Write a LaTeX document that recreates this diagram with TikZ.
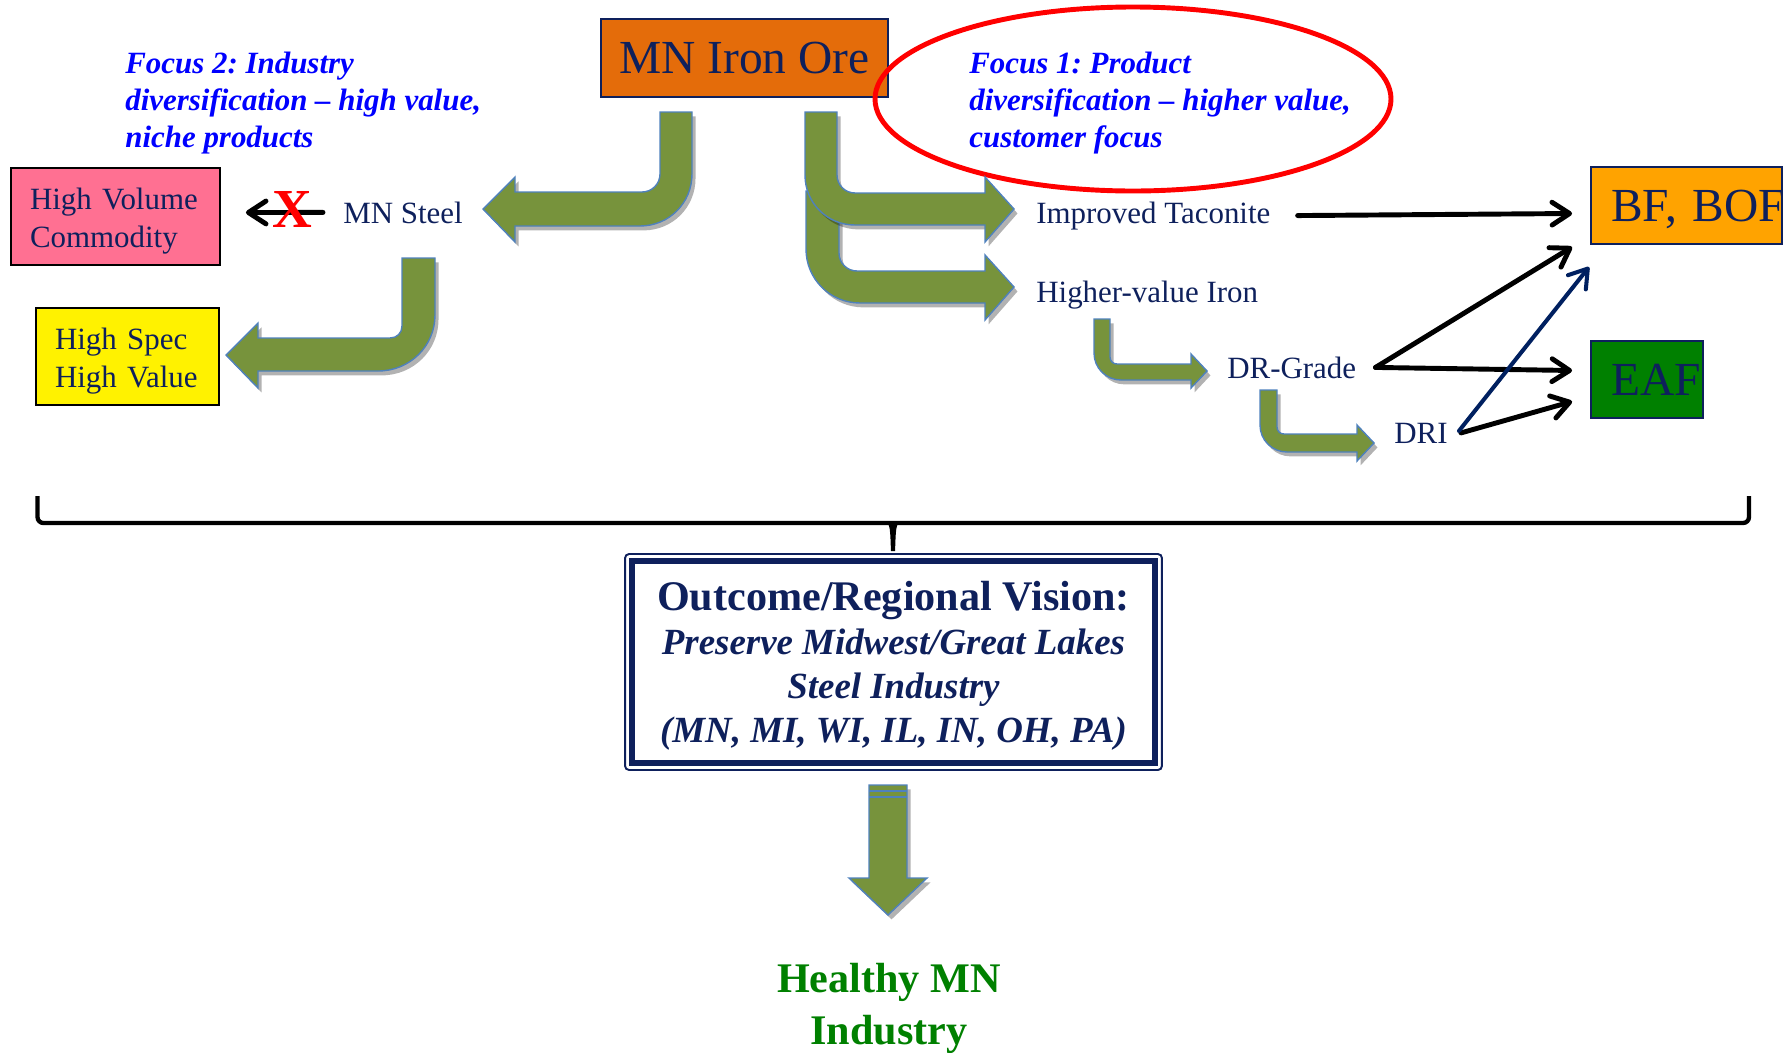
\documentclass[tikz,border=0pt]{standalone}
\usepackage{fontspec}
\setmainfont{Liberation Serif}
\usetikzlibrary{arrows.meta,calc,shadows}
\frenchspacing
\definecolor{orebox}{RGB}{228,108,10}
\definecolor{bofbox}{RGB}{255,163,0}
\definecolor{volbox}{RGB}{255,112,146}
\definecolor{eafbox}{RGB}{0,128,0}
\definecolor{navytext}{RGB}{14,32,92}
\definecolor{focusblue}{RGB}{0,0,255}
\definecolor{arrowgreen}{RGB}{119,147,60}
\definecolor{arrowedge}{RGB}{79,129,189}
\definecolor{ovalred}{RGB}{255,0,0}
\definecolor{healthygreen}{RGB}{0,128,0}
\definecolor{drinavy}{RGB}{0,32,96}

\begin{document}
\begin{tikzpicture}[x=0.02cm,y=-0.02cm,
 bigbox/.style={draw=navytext,line width=1.1pt,text=navytext,font=\fontsize{27}{32}\selectfont,inner xsep=0.4cm,inner ysep=0pt,align=left,text depth=0pt,minimum height=1.54cm},
 smallbox/.style={draw=black,line width=1.1pt,text=navytext,font=\fontsize{17.6}{21.6}\selectfont,inner xsep=0.38cm,inner ysep=0pt,align=left,minimum height=1.94cm},
 txt/.style={text=navytext,font=\fontsize{17.6}{21}\selectfont,inner sep=0pt,anchor=base west},
 focus/.style={text=focusblue,font=\fontsize{17.6}{21.06}\selectfont\bfseries\itshape,inner sep=0pt,align=left,anchor=north west},
 flow/.style={-{Straight Barb[length=10pt,width=13pt,round]},line width=2.8pt,line cap=round},
 bentarrow/.style={fill=arrowgreen,draw=arrowedge,line width=0.8pt,drop shadow={shadow xshift=2pt,shadow yshift=-2.5pt,opacity=0.3,fill=black}}]

\useasboundingbox (0,0) rectangle (1792,1052) ;

\node[bigbox,fill=orebox,inner xsep=0pt,minimum width=5.74cm,minimum height=1.56cm,align=center] (ore) at (744.5,58) {MN Iron Ore} ;
\node[bigbox,fill=bofbox,text width=3.02cm] (bof) at (1686.5,205.5) {\mbox{BF, BOF}} ;
\node[bigbox,fill=eafbox,text width=1.44cm] (eaf) at (1647,379.5) {\mbox{EAF}} ;
\node[smallbox,fill=volbox,text width=3.42cm] (volume) at (115.5,216.5) {\rule{0pt}{17pt}High Volume\\Commodity} ;
\node[smallbox,fill=yellow,text width=2.9cm] (spec) at (127.5,356.5) {\rule{0pt}{17pt}High Spec\\High Value} ;

\node[focus] (focustwo) at (125,51.3) {Focus 2: Industry\\diversification -- high value,\\niche products} ;
\node[focus] (focusone) at (969,51.3) {Focus 1: Product\\diversification -- higher value,\\customer focus} ;
\draw[ovalred,line width=2.8pt] (1133,99) ellipse [x radius=258,y radius=92] ;

\node[txt] (steel) at (343,223) {MN Steel} ;
\node[txt] (taconite) at (1036,223) {Improved Taconite} ;
\node[txt] (higher) at (1036,302) {Higher-value Iron} ;
\node[txt] (drgrade) at (1227,378) {DR-Grade} ;
\node[txt] (dri) at (1394,443) {DRI} ;

\draw[bentarrow] (660,112) -- (692,112) -- (692,174) .. controls (692,203) and (669,226) .. (640,226) -- (515,226) -- (515,242) -- (483,209) -- (515,177) -- (515,192) -- (642,192) .. controls (652,192) and (660,184) .. (660,174) -- cycle ;
\draw[bentarrow] (402,258) -- (435,258) -- (435,315) .. controls (435,346) and (410,371) .. (378,371) -- (258,371) -- (258,388) -- (226,355) -- (258,323) -- (258,338) -- (390,338) .. controls (397,338) and (402,333) .. (402,326) -- cycle ;
\draw[bentarrow] (806,191) -- (839,191) -- (839,253) .. controls (839,263) and (847,271) .. (857,271) -- (985,271) -- (985,255) -- (1014,287) -- (985,320) -- (985,303) -- (860,303) .. controls (830,303) and (806,279) .. (806,249) -- cycle ;
\draw[bentarrow] (805,112) -- (837,112) -- (837,175) .. controls (837,185) and (845,193) .. (855,193) -- (985,193) -- (985,177) -- (1014,209) -- (985,242) -- (985,225) -- (855,225) .. controls (827,225) and (805,203) .. (805,175) -- cycle ;
\draw[bentarrow] (1094,319) -- (1110,319) -- (1110,357) .. controls (1110,361) and (1113,364) .. (1117,364) -- (1191,364) -- (1191,354) -- (1207,371) -- (1191,388) -- (1191,380) -- (1121,380) .. controls (1106,380) and (1094,368) .. (1094,353) -- cycle ;
\draw[bentarrow] (1260,390) -- (1277,390) -- (1277,427) .. controls (1277,431) and (1280,434) .. (1284,434) -- (1357,434) -- (1357,425) -- (1374,443) -- (1357,461) -- (1357,452) -- (1287,452) .. controls (1272,452) and (1260,440) .. (1260,425) -- cycle ;

\draw[flow] ($(steel.west)+(-20,0)$) -- ($(volume.east)+(25,-4)$) ;
\node[text=red,font=\fontsize{31.3}{36}\selectfont\bfseries,inner sep=0pt,anchor=base] (cross) at (292.5,227) {X} ;
\draw[flow] ($(taconite.east)+(27,0)$) -- ($(bof.west)+(-18,8)$) ;
\draw[flow] ($(drgrade.east)+(19,0)$) -- ($(bof.south west)+(-18,2)$) ;
\draw[flow] ($(drgrade.east)+(19,0)$) -- ($(eaf.west)+(-18,-9)$) ;
\draw[flow] ($(dri.east)+(13,0)$) -- ($(eaf.west)+(-18,22)$) ;
\draw[flow,drinavy,line width=2.3pt] ($(dri.east)+(11,-2)$) -- ($(bof.south west)+(-1,22)$) ;

\draw[line width=2.45pt,rounded corners=0.12cm] (37.5,496) |- (893,523) -| (1749,496) ;
\fill (884,521) .. controls (891,522) and (890,532) .. (891,551) -- (895,551) .. controls (896,532) and (895,522) .. (902,521) -- cycle ;

\node[draw=navytext,line width=1.1pt,rounded corners=0.08cm,minimum width=10.74cm,minimum height=4.32cm,align=center,text=navytext,font=\fontsize{21}{25.2}\selectfont\bfseries\itshape] (outcome) at (893.5,662) {{\fontsize{24}{25.2}\selectfont\upshape\rule{0pt}{21pt}Outcome/Regional Vision:}\\Preserve Midwest/Great Lakes\\Steel Industry\\(MN, MI, WI, IL, IN, OH, PA)} ;
\draw[navytext,line width=3.4pt] ($(outcome.north west)+(8,8)$) rectangle ($(outcome.south east)+(-8,-8)$) ;

\draw[bentarrow] (869,785) -- (907,785) -- (907,878) -- (927,878) -- (888,915) -- (849,878) -- (869,878) -- cycle ;
\draw[arrowedge,line width=0.6pt] (869,791) -- (907,791) (869,797) -- (907,797) ;

\node[text=healthygreen,font=\fontsize{24}{29.6}\selectfont\bfseries,align=center,inner sep=0pt,anchor=north] (healthy) at (889,962.6) {Healthy MN\\Industry} ;

\end{tikzpicture}
\end{document}
